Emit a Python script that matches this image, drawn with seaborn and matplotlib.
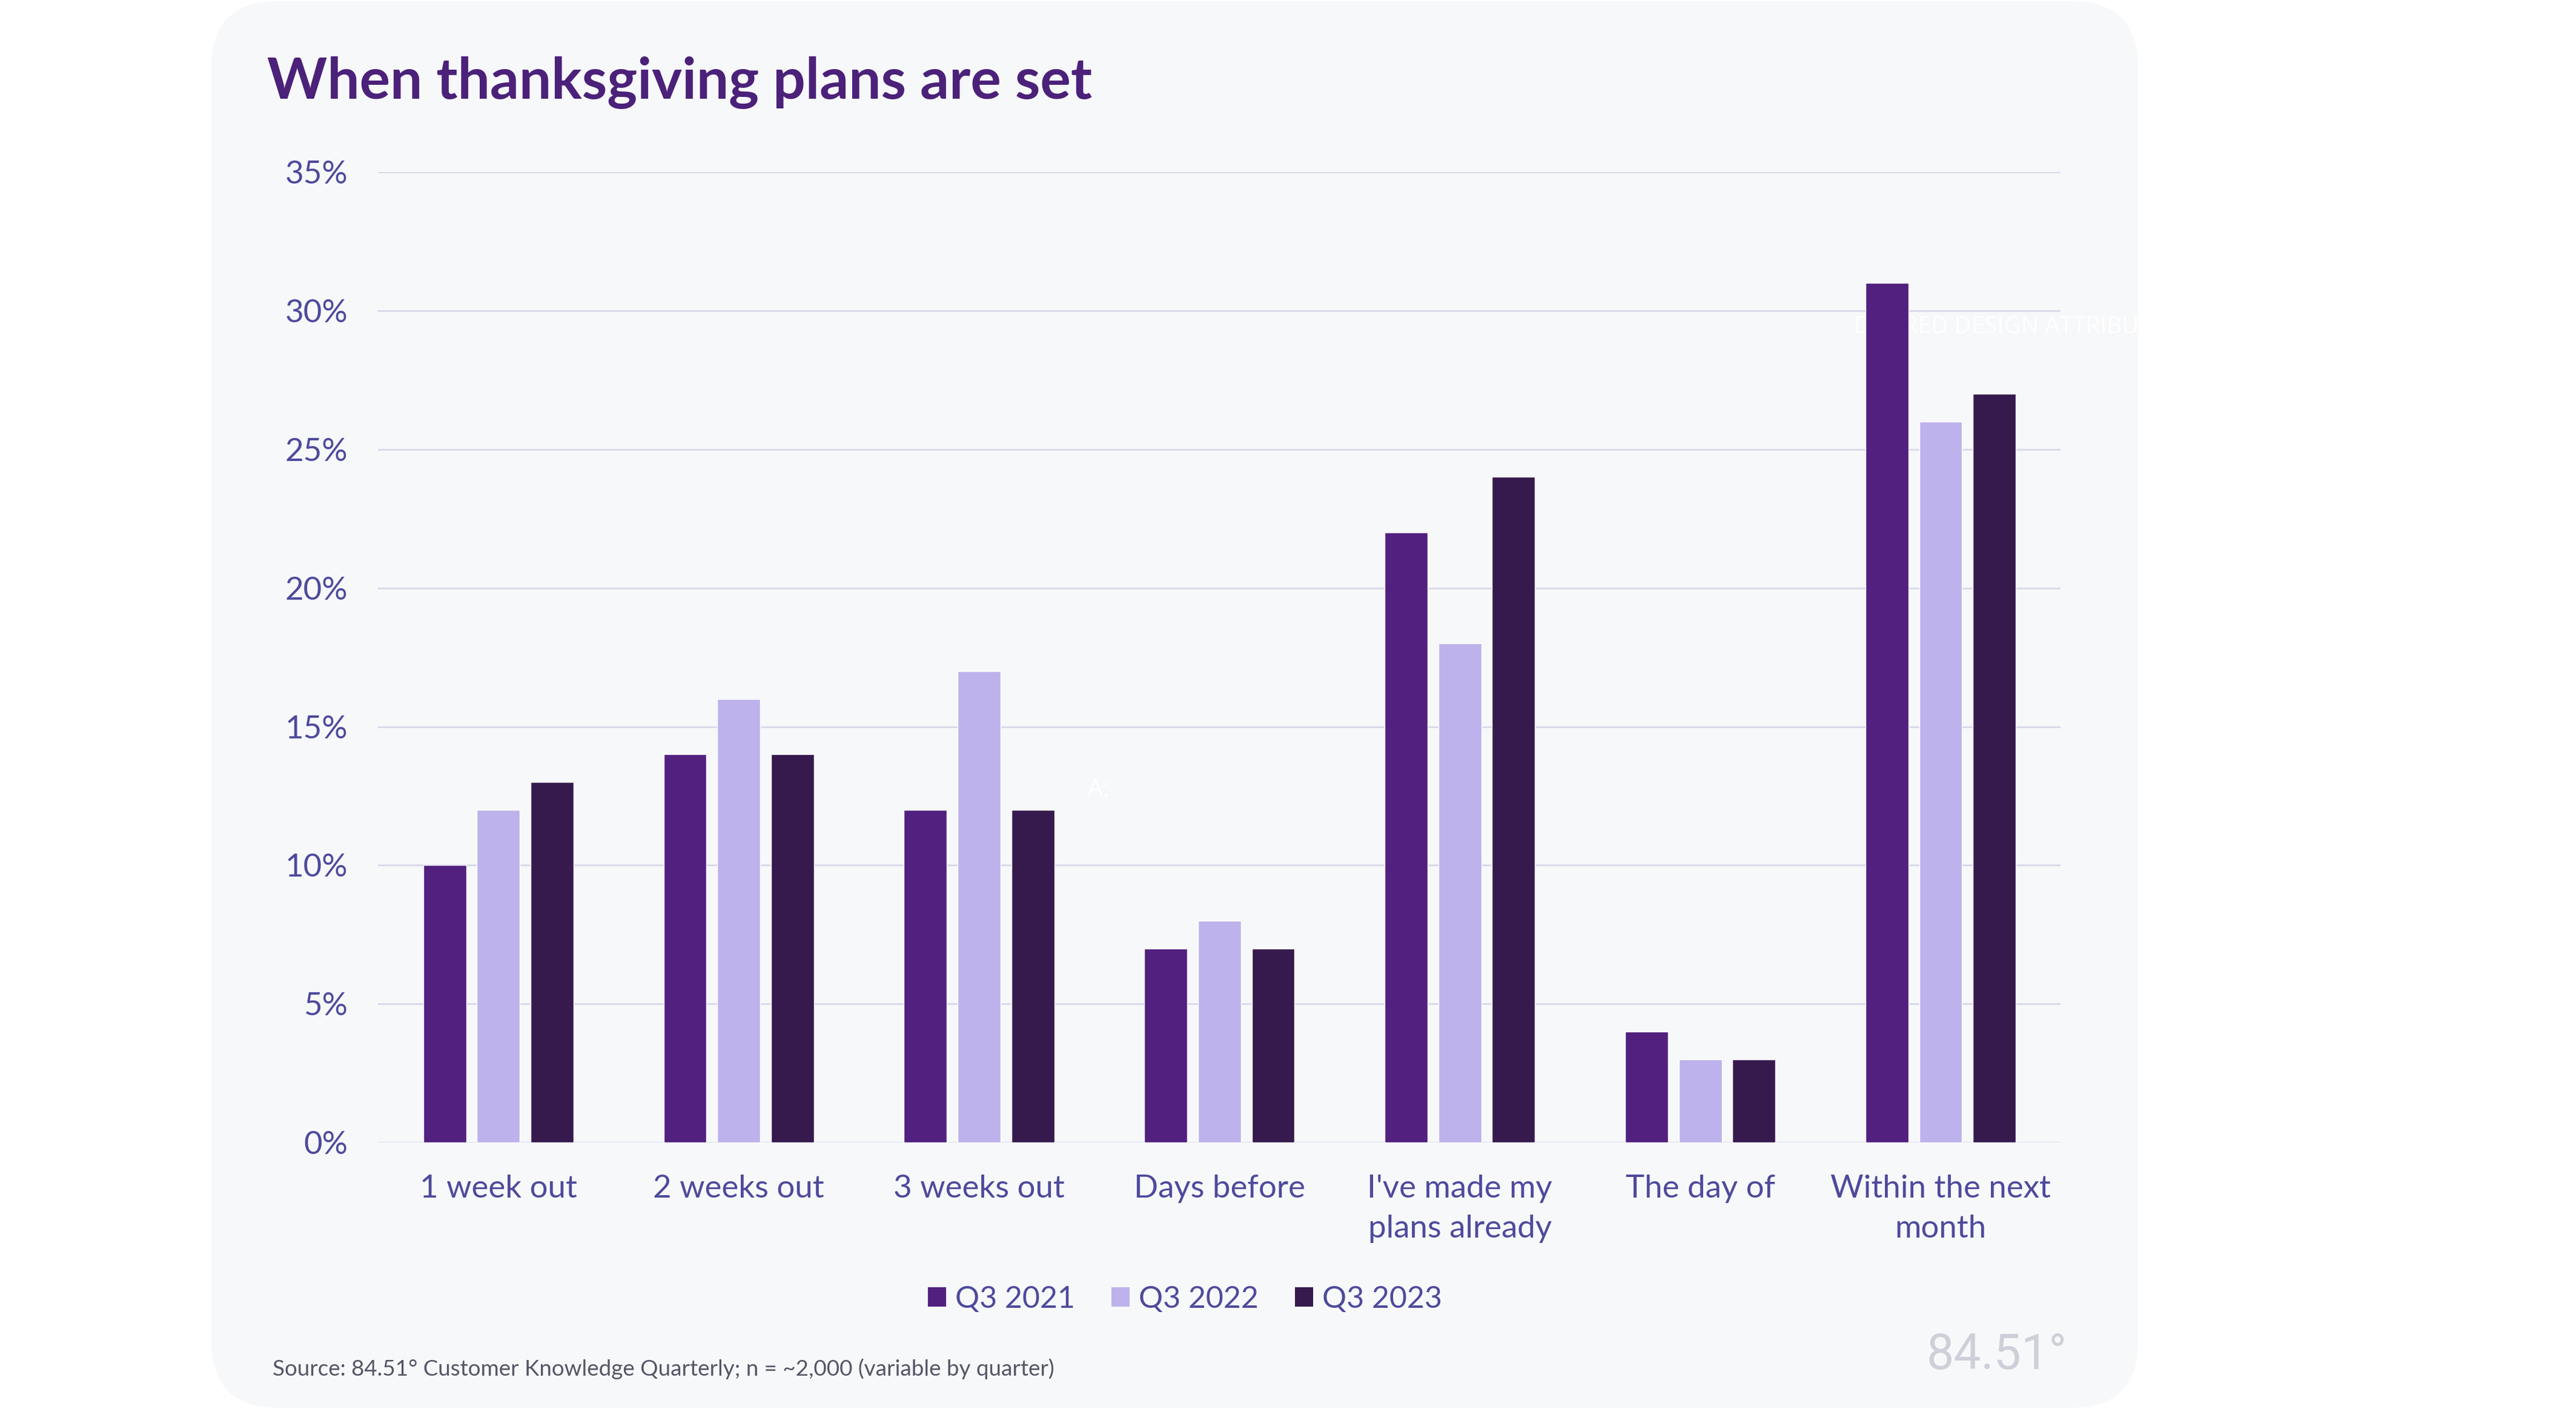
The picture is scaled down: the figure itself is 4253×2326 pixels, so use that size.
import pandas as pd
import numpy as np
import seaborn as sns
from matplotlib import pyplot as plt
from matplotlib.patches import FancyBboxPatch, Patch
from matplotlib.transforms import IdentityTransform

# data
categories = ["1 week out", "2 weeks out", "3 weeks out", "Days before",
              "I've made my\nplans already", "The day of", "Within the next\nmonth"]
quarters = ["Q3 2021", "Q3 2022", "Q3 2023"]
q3_2021 = [10, 14, 12, 7, 22, 4, 31]
q3_2022 = [12, 16, 17, 8, 18, 3, 26]
q3_2023 = [13, 14, 12, 7, 24, 3, 27]
yticks = [0, 5, 10, 15, 20, 25, 30, 35]

colors = ["#52207F", "#BEB2EC", "#371A4D"]
label_color = "#4E4A9C"

df = pd.DataFrame({
    "category": categories * 3,
    "quarter": np.repeat(quarters, len(categories)),
    "value": q3_2021 + q3_2022 + q3_2023,
})

sns.set_theme(style="white")
plt.rcParams["font.family"] = ["Lato", "DejaVu Sans"]

fig = plt.figure(figsize=(42.53, 23.26), dpi=100)
fig.patch.set_facecolor("white")

# rounded card behind everything
card = FancyBboxPatch((349, 2), 3181, 2322, boxstyle="round,pad=0,rounding_size=110",
                      transform=IdentityTransform(), facecolor="#F7F8FA", edgecolor="none", zorder=-5)
fig.patches.append(card)

ax = fig.add_axes([0.1468, 0.189, 0.6532, 0.689])
ax.set_facecolor("none")

sns.barplot(data=df, x="category", y="value", hue="quarter", order=categories,
            hue_order=quarters, palette=colors, width=0.67, gap=0.2, ax=ax,
            saturation=1, legend=False, zorder=3)

ax.set_xlim(-0.5, 6.5)
ax.set_ylim(0, 35)
ax.set_yticks(yticks)
ax.set_yticklabels([f"{t}%" for t in yticks])
ax.set_xlabel("")
ax.set_ylabel("")
for s in ax.spines.values():
    s.set_visible(False)
ax.grid(axis="y", color="#D8D8EA", linewidth=2, zorder=1)
ax.set_axisbelow(True)
ax.tick_params(axis="both", length=0, labelcolor=label_color, labelsize=38)
ax.tick_params(axis="y", pad=36)
ax.tick_params(axis="x", pad=38)
for lab in ax.get_xticklabels():
    lab.set_linespacing(1.5)

# faint leftover texts in the reference (white, mostly hidden)
ax.text(5.64, 29.4, "DESIRED DESIGN ATTRIBUTES", color="white", fontsize=28,
        fontfamily="Open Sans", va="center", ha="left", zorder=2, clip_on=False)
fig.text(0.4265, 0.4395, "A:", color="white", fontsize=30, fontfamily="Open Sans",
         va="center", ha="center")

fig.text(0.1037, 0.930, "When thanksgiving plans are set", color="#4B2179",
         fontsize=68, fontweight="bold", ha="left", va="baseline")

handles = [Patch(facecolor=c, edgecolor="none") for c in colors]
fig.legend(handles, quarters, loc="center", bbox_to_anchor=(0.460, 0.078), ncol=3,
           frameon=False, fontsize=36, labelcolor=label_color, handlelength=0.6,
           handleheight=0.6, handletextpad=0.3, columnspacing=1.2)

fig.text(0.1058, 0.0284, "Source: 84.51° Customer Knowledge Quarterly; n = ~2,000 (variable by quarter)",
         color="#555566", fontsize=26.5, ha="left", va="center")
fig.text(0.8025, 0.038, "84.51°", color="#CDD0D8", fontsize=58, fontfamily="Roboto",
         ha="right", va="center")

fig.savefig("out.png", dpi=100)
